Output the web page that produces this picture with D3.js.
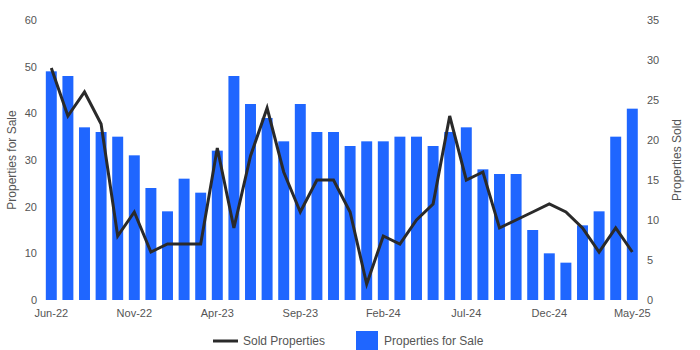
<!DOCTYPE html>
<html>
<head>
<meta charset="utf-8">
<script src="https://cdn.jsdelivr.net/npm/d3@7"></script>
<style>
  html, body { margin: 0; padding: 0; background: #fff; }
  svg { display: block; font-family: "Liberation Sans", Arial, sans-serif; }
</style>
</head>
<body>
<svg id="chart" width="700" height="350"></svg>
<script>
const months = ["Jun-22","Jul-22","Aug-22","Sep-22","Oct-22","Nov-22","Dec-22","Jan-23","Feb-23","Mar-23","Apr-23","May-23",
  "Jun-23","Jul-23","Aug-23","Sep-23","Oct-23","Nov-23","Dec-23","Jan-24","Feb-24","Mar-24","Apr-24","May-24",
  "Jun-24","Jul-24","Aug-24","Sep-24","Oct-24","Nov-24","Dec-24","Jan-25","Feb-25","Mar-25","Apr-25","May-25"];
const forSale = [49,48,37,36,35,31,24,19,26,23,32,48,42,39,34,42,36,36,33,34,34,35,35,33,36,37,28,27,27,15,10,8,16,19,35,41];
const sold = [29,23,26,22,8,11,6,7,7,7,19,9,18,24,16,11,15,15,11,2,8,7,10,12,23,15,16,9,10,11,12,11,9,6,9,6];
const xTickLabels = ["Jun-22","Nov-22","Apr-23","Sep-23","Feb-24","Jul-24","Dec-24","May-25"];
const leftTicks = [0,10,20,30,40,50,60];
const rightTicks = [0,5,10,15,20,25,30,35];

const svg = d3.select("#chart");
const mTop = 20, mBottom = 300, mLeft = 43, mRight = 640.6;
const barColor = "#1f66ff", lineColor = "#2a2a2a", textColor = "#555";

const x = d3.scaleBand().domain(months).range([mLeft, mRight]).paddingInner(0.34).paddingOuter(0.17);
const yL = d3.scaleLinear().domain([0, 60]).range([mBottom, mTop]);
const yR = d3.scaleLinear().domain([0, 35]).range([mBottom, mTop]);

svg.append("g").selectAll("rect").data(months).join("rect")
  .attr("x", d => x(d)).attr("width", x.bandwidth())
  .attr("y", (d, i) => yL(forSale[i])).attr("height", (d, i) => yL(0) - yL(forSale[i]))
  .attr("fill", barColor);

const line = d3.line().x((d, i) => x(months[i]) + x.bandwidth() / 2).y(d => yR(d));
svg.append("path").datum(sold).attr("d", line)
  .attr("fill", "none").attr("stroke", lineColor).attr("stroke-width", 3).attr("stroke-linejoin", "miter");

// axes
const axL = d3.axisLeft(yL).tickValues(leftTicks).tickSize(0).tickPadding(0);
const gL = svg.append("g").attr("transform", `translate(37,0)`).call(axL);
const axR = d3.axisRight(yR).tickValues(rightTicks).tickSize(0).tickPadding(0);
const gR = svg.append("g").attr("transform", `translate(647,0)`).call(axR);
const axB = d3.axisBottom(x).tickValues(xTickLabels).tickSize(0).tickPadding(0);
const gB = svg.append("g").attr("transform", `translate(0,${mBottom + 9})`).call(axB);
[gL, gR, gB].forEach(g => {
  g.select(".domain").remove();
  g.selectAll("text").attr("fill", textColor).style("font-size", "11px").style("font-family", '"Liberation Sans", Arial, sans-serif');
});

svg.append("text").attr("transform", `translate(16,160) rotate(-90)`).attr("text-anchor", "middle")
  .attr("fill", textColor).style("font-size", "12px").text("Properties for Sale");
svg.append("text").attr("transform", `translate(681,160) rotate(-90)`).attr("text-anchor", "middle")
  .attr("fill", textColor).style("font-size", "12px").text("Properties Sold");

// legend
const lg = svg.append("g");
lg.append("line").attr("x1", 213).attr("x2", 238).attr("y1", 341).attr("y2", 341)
  .attr("stroke", lineColor).attr("stroke-width", 3);
lg.append("text").attr("x", 243).attr("y", 345).attr("fill", textColor).style("font-size", "12px").text("Sold Properties");
lg.append("rect").attr("x", 356).attr("y", 331).attr("width", 22).attr("height", 19).attr("fill", barColor);
lg.append("text").attr("x", 384).attr("y", 345).attr("fill", textColor).style("font-size", "12px").text("Properties for Sale");
</script>
</body>
</html>
